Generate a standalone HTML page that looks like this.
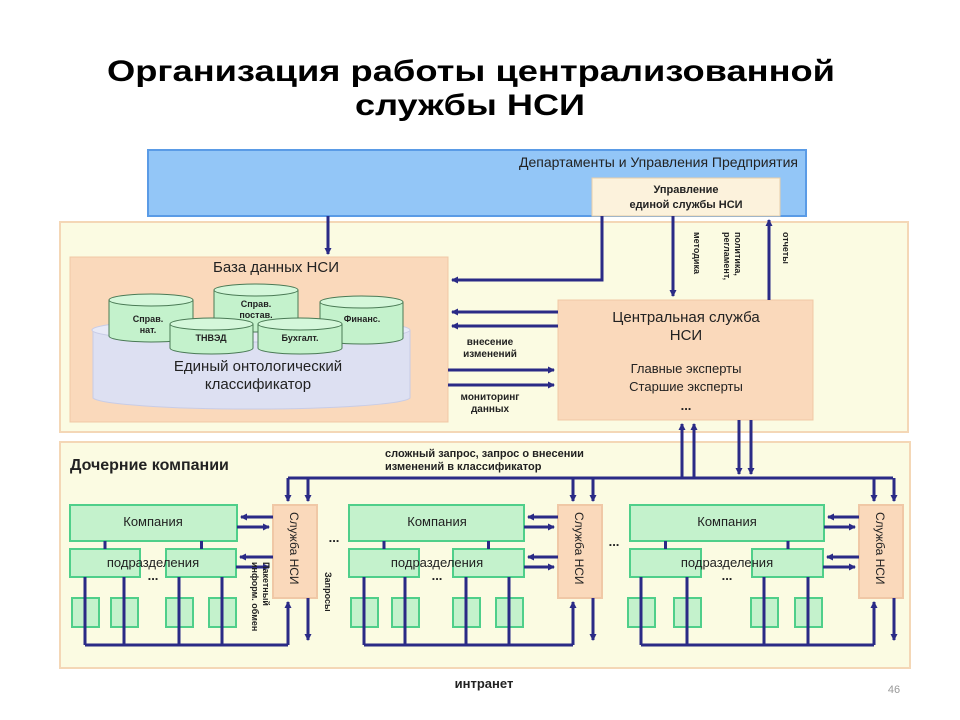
<!DOCTYPE html>
<html><head><meta charset="utf-8"><style>
html,body{margin:0;padding:0;background:#fff;}
svg{display:block;font-family:"Liberation Sans","DejaVu Sans",sans-serif;}
</style></head><body>
<svg id="s" width="960" height="720" viewBox="0 0 960 720" xmlns="http://www.w3.org/2000/svg">
<defs>
<marker id="a" markerWidth="8" markerHeight="8" refX="6" refY="4" orient="auto" markerUnits="userSpaceOnUse"><path d="M0,0.5 L7,4 L0,7.5 z" fill="#2a2a86"/></marker>
</defs>
<rect width="960" height="720" fill="#fff"/>
<text x="471" y="81" text-anchor="middle" font-size="30" font-weight="bold" fill="#000" textLength="728" lengthAdjust="spacingAndGlyphs">Организация работы централизованной</text>
<text x="470" y="115" text-anchor="middle" font-size="30" font-weight="bold" fill="#000" textLength="230" lengthAdjust="spacingAndGlyphs">службы НСИ</text>

<!-- top blue -->
<rect x="148" y="150" width="658" height="66" fill="#93c6f7" stroke="#5a9be6" stroke-width="2"/>
<text x="798" y="167" text-anchor="end" font-size="14" fill="#222">Департаменты и Управления Предприятия</text>
<rect x="592" y="178" width="188" height="38" fill="#fcf2dc" stroke="#e8cfa8"/>
<text x="686" y="193" text-anchor="middle" font-size="11" font-weight="bold" fill="#222">Управление</text>
<text x="686" y="208" text-anchor="middle" font-size="11" font-weight="bold" fill="#222">единой службы НСИ</text>

<!-- upper yellow -->
<rect x="60" y="222" width="848" height="210" fill="#fbfbe2" stroke="#f4d7b6" stroke-width="2"/>
<rect x="70" y="257" width="378" height="165" fill="#fad9bb" stroke="#f0c8a6"/>
<text x="276" y="272" text-anchor="middle" font-size="15" fill="#222">База данных НСИ</text>
<path d="M93,330 L93,398 A159,12 0 0 0 410,398 L410,330" fill="#dde0f2" stroke="#c8cce6"/>
<ellipse cx="251" cy="330" rx="159" ry="12" fill="#e8eaf7" stroke="#c8cce6"/>
<text x="258" y="371" text-anchor="middle" font-size="15" fill="#222">Единый онтологический</text>
<text x="258" y="389" text-anchor="middle" font-size="15" fill="#222">классификатор</text>
<g id="cyls" stroke="#4a7a55" stroke-width="1" fill="#c4f2cc"></g>
<g font-size="9" font-weight="bold" fill="#222" text-anchor="middle">
<text x="148" y="322">Справ.</text><text x="148" y="333">нат.</text>
<text x="256" y="307">Справ.</text><text x="256" y="318">постав.</text>
<text x="362" y="322">Финанс.</text>
<text x="211" y="341">ТНВЭД</text>
<text x="300" y="341">Бухгалт.</text>
</g>

<rect x="558" y="300" width="255" height="120" fill="#fad9bb" stroke="#f0c8a6"/>
<text x="686" y="322" text-anchor="middle" font-size="15" fill="#222">Центральная служба</text>
<text x="686" y="340" text-anchor="middle" font-size="15" fill="#222">НСИ</text>
<text x="686" y="373" text-anchor="middle" font-size="13" fill="#222">Главные эксперты</text>
<text x="686" y="391" text-anchor="middle" font-size="13" fill="#222">Старшие эксперты</text>
<text x="686" y="410" text-anchor="middle" font-size="13" font-weight="bold" fill="#222">...</text>

<g font-size="10" font-weight="bold" fill="#222" text-anchor="middle">
<text x="490" y="345">внесение</text><text x="490" y="357">изменений</text>
<text x="490" y="400">мониторинг</text><text x="490" y="412">данных</text>
</g>
<g font-size="9" font-weight="bold" fill="#222">
<text transform="translate(735,232) rotate(90)">политика,</text>
<text transform="translate(724,232) rotate(90)">регламент,</text>
<text transform="translate(694,232) rotate(90)" dx="0">методика</text>
<text transform="translate(783,232) rotate(90)">отчеты</text>
</g>

<!-- lower yellow -->
<rect x="60" y="442" width="850" height="226" fill="#fbfbe2" stroke="#f4d7b6" stroke-width="2"/>
<text x="70" y="470" font-size="16" font-weight="bold" fill="#222">Дочерние компании</text>
<text x="385" y="457" font-size="11" font-weight="bold" fill="#222">сложный запрос, запрос о внесении</text>
<text x="385" y="470" font-size="11" font-weight="bold" fill="#222">изменений в классификатор</text>

<g id="shapes"></g>
<g id="lines" stroke="#2a2a86" stroke-width="3" fill="none"></g>

<g font-size="13" fill="#222" text-anchor="middle">
<text x="153" y="526">Компания</text><text x="437" y="526">Компания</text><text x="727" y="526">Компания</text>
<text x="153" y="567">подразделения</text><text x="437" y="567">подразделения</text><text x="727" y="567">подразделения</text>
</g>
<g font-size="13" font-weight="bold" fill="#222" text-anchor="middle">
<text x="153" y="580">...</text><text x="437" y="580">...</text><text x="727" y="580">...</text>
<text x="334" y="542">...</text><text x="614" y="546">...</text>
</g>
<g font-size="12" fill="#222">
<text transform="translate(290,512) rotate(90)">Служба НСИ</text>
<text transform="translate(575,512) rotate(90)">Служба НСИ</text>
<text transform="translate(876,512) rotate(90)">Служба НСИ</text>
</g>
<g font-size="9" font-weight="bold" fill="#222">
<text transform="translate(263,562) rotate(90)">Пакетный</text>
<text transform="translate(252,562) rotate(90)">информ. обмен</text>
<text transform="translate(325,572) rotate(90)">Запросы</text>
</g>
<text x="484" y="688" text-anchor="middle" font-size="13" font-weight="bold" fill="#222">интранет</text>
<text x="894" y="693" text-anchor="middle" font-size="11" fill="#999">46</text>
</svg>
<script>
var NS="http://www.w3.org/2000/svg";
function el(p,t,a){var e=document.createElementNS(NS,t);for(var k in a)e.setAttribute(k,a[k]);document.getElementById(p).appendChild(e);return e;}
function cyl(x1,x2,y1,y2){var rx=(x2-x1)/2,cx=x1+rx,ry=6;
el("cyls","path",{d:"M"+x1+","+y1+" L"+x1+","+y2+" A"+rx+","+ry+" 0 0 0 "+x2+","+y2+" L"+x2+","+y1});
el("cyls","ellipse",{cx:cx,cy:y1,rx:rx,ry:ry,fill:"#d4f7da"});}
cyl(109,193,300,336);cyl(214,298,290,326);cyl(320,403,302,338);cyl(170,253,324,348);cyl(258,342,324,348);
function L(pts,arr){var a={points:pts};if(arr)a["marker-end"]="url(#a)";el("lines","polyline",a);}
function B(x,y,w,h,f,s){el("shapes","rect",{x:x,y:y,width:w,height:h,fill:f,stroke:s,"stroke-width":2});}
L("328,216 328,254",1);
L("602,216 602,280 452,280",1);
L("673,216 673,296",1);
L("769,300 769,220",1);
L("558,312 452,312",1);L("558,326 452,326",1);
L("448,370 554,370",1);L("448,385 554,385",1);
L("682,478 682,424",1);L("694,478 694,424",1);
L("739,420 739,474",1);L("751,420 751,474",1);
L("288,478 893,478");
var G=[{c:[70,237],p1:[70,140],p2:[166,236],s:[72,111,166,209],sv:273},
{c:[349,524],p1:[349,419],p2:[453,524],s:[351,392,453,496],sv:558},
{c:[630,824],p1:[630,701],p2:[752,823],s:[628,674,751,795],sv:859}];
var gr="#c4f2cc",gs="#4fcf8a";
G.forEach(function(g){
var sv=g.sv,v1=sv+15,v2=sv+35;
var m1=(g.c[0]+g.p1[1])/2, m2=(g.p2[0]+g.c[1])/2;
L(m1+",541 "+m1+",549");L(m2+",541 "+m2+",549");
g.s.forEach(function(x){var cx=x+13;L(cx+",577 "+cx+",645");});
L((g.s[0]+13)+",645 "+v1+",645");
L(v1+",645 "+v1+",602",1);
L(v2+",598 "+v2+",640",1);
L(v1+",478 "+v1+",501",1);
L(v2+",478 "+v2+",501",1);
L(sv+",517 "+(g.c[1]+4)+",517",1);
L((g.c[1])+",527 "+(sv-4)+",527",1);
L(sv+",557 "+(g.p2[1]+4)+",557",1);
L((g.p2[1])+",567 "+(sv-4)+",567",1);
B(g.c[0],505,g.c[1]-g.c[0],36,gr,gs);
B(g.p1[0],549,g.p1[1]-g.p1[0],28,gr,gs);
B(g.p2[0],549,g.p2[1]-g.p2[0],28,gr,gs);
g.s.forEach(function(x){B(x,598,27,29,gr,gs);});
B(sv,505,44,93,"#fad9bb","#f0c8a6");
});
</script>
</body></html>
